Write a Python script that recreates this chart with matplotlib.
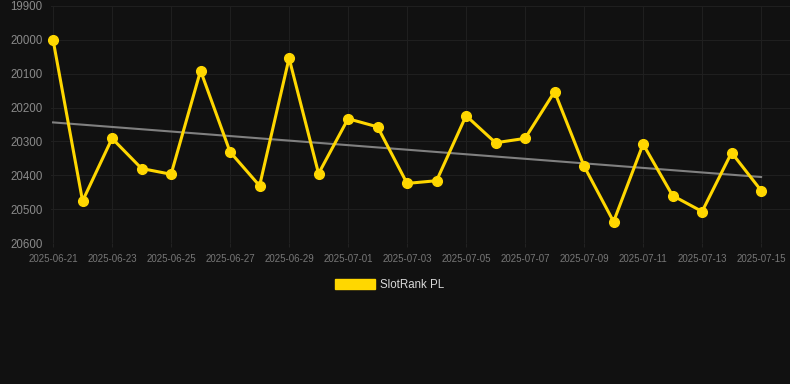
"""Daily SlotRank PL position with a linear trend line, dark theme."""
import matplotlib
matplotlib.use("Agg")
import matplotlib.pyplot as plt
import matplotlib.dates as mdates
from matplotlib.patches import Patch
import numpy as np
import pandas as pd

plt.rcParams["font.family"] = ["Liberation Sans", "DejaVu Sans"]

# data
dates = pd.date_range("2025-06-21", "2025-07-15", freq="D")
rank = [20000, 20476, 20291, 20380, 20397, 20091, 20331, 20431, 20054, 20395,
        20233, 20257, 20424, 20416, 20224, 20304, 20291, 20153, 20373, 20537,
        20308, 20460, 20507, 20333, 20445]
series_name = "SlotRank PL"
y_ticks = [19900, 20000, 20100, 20200, 20300, 20400, 20500, 20600]

bg = "#111111"
gold = "#FFD700"

fig = plt.figure(figsize=(7.9, 3.84), dpi=100, facecolor=bg)
ax = fig.add_axes([51 / 790, 1 - 243 / 384, 1 - 51 / 790, 237 / 384])
ax.set_facecolor(bg)

x_num = mdates.date2num(dates)
# least squares trend
coef = np.polyfit(x_num, rank, 1)
ax.plot(dates, np.polyval(coef, x_num), color="#808080", linewidth=1.5, zorder=2)

ax.plot(dates, rank, color=gold, linewidth=2.2, marker="o", markersize=7,
        zorder=3, clip_on=False)

ax.set_ylim(20600, 19900)
ax.set_yticks(y_ticks)
ax.set_xlim(x_num[0] - 0.07, x_num[-1] + 0.98)
ax.xaxis.set_major_locator(mdates.DayLocator(interval=2))
ax.xaxis.set_major_formatter(mdates.DateFormatter("%Y-%m-%d"))

ax.grid(True, color="#1f1f1f", linewidth=0.8)
for s in ax.spines.values():
    s.set_visible(False)
ax.tick_params(axis="y", length=0, pad=6, labelsize=8.3, labelcolor="#8a8a8a")
ax.tick_params(axis="x", length=3, color="#222222", pad=5, labelsize=7,
               labelcolor="#777777")

leg = fig.legend(handles=[Patch(color=gold, label=series_name)],
                 loc="center", bbox_to_anchor=(390 / 790, 1 - 285 / 384),
                 frameon=False, fontsize=8.3, handlelength=3.4,
                 handleheight=0.95, handletextpad=0.5)
for t in leg.get_texts():
    t.set_color("#d8d8d8")

fig.savefig("out.png", dpi=100, facecolor=bg)
